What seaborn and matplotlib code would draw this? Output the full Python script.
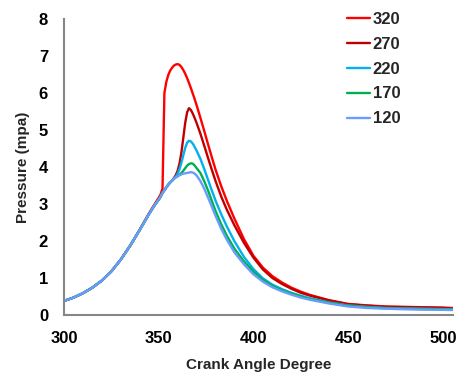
import pandas as pd
import matplotlib
matplotlib.use("Agg")
import matplotlib.pyplot as plt
import seaborn as sns

# angulos de ciguenal (grados)
angle = [300, 305, 310, 315, 320, 325, 330, 335, 340, 345, 348, 350, 351, 352,
         353, 354, 355, 356, 357, 358, 359, 360, 361, 362, 363, 364, 365, 366,
         367, 368, 369, 370, 372, 374, 376, 378, 380, 383, 386, 390, 395, 400,
         405, 410, 415, 420, 425, 430, 440, 450, 460, 470, 480, 490, 500, 505]

# presion (MPa)
p320 = [0.38, 0.47, 0.59, 0.74, 0.93, 1.18, 1.50, 1.88, 2.31, 2.76, 3.01, 3.17, 3.26, 3.42,
        6.00, 6.30, 6.48, 6.60, 6.68, 6.74, 6.77, 6.78, 6.76, 6.70, 6.62, 6.52, 6.40, 6.27,
        6.13, 5.98, 5.83, 5.67, 5.33, 4.98, 4.62, 4.27, 3.93, 3.48, 3.08, 2.60, 2.05, 1.60,
        1.28, 1.05, 0.88, 0.74, 0.63, 0.54, 0.40, 0.30, 0.26, 0.23, 0.22, 0.21, 0.20, 0.19]
p270 = [0.38, 0.47, 0.59, 0.74, 0.93, 1.18, 1.50, 1.88, 2.30, 2.74, 2.98, 3.12, 3.20, 3.30,
        3.37, 3.45, 3.52, 3.58, 3.63, 3.70, 3.78, 3.90, 4.10, 4.40, 4.80, 5.20, 5.48, 5.59,
        5.54, 5.44, 5.32, 5.19, 4.90, 4.58, 4.25, 3.93, 3.62, 3.20, 2.84, 2.42, 1.95, 1.55,
        1.23, 1.00, 0.84, 0.71, 0.60, 0.52, 0.39, 0.29, 0.25, 0.22, 0.21, 0.20, 0.19, 0.18]
p220 = [0.38, 0.47, 0.59, 0.74, 0.93, 1.18, 1.50, 1.88, 2.30, 2.74, 2.98, 3.12, 3.20, 3.30,
        3.37, 3.45, 3.52, 3.58, 3.63, 3.68, 3.74, 3.82, 3.95, 4.12, 4.32, 4.52, 4.66, 4.71,
        4.69, 4.63, 4.54, 4.44, 4.22, 3.95, 3.66, 3.37, 3.09, 2.72, 2.39, 1.99, 1.57, 1.24,
        0.99, 0.82, 0.70, 0.60, 0.52, 0.45, 0.34, 0.26, 0.22, 0.19, 0.18, 0.17, 0.16, 0.16]
p170 = [0.38, 0.47, 0.59, 0.74, 0.93, 1.18, 1.50, 1.88, 2.30, 2.74, 2.98, 3.12, 3.20, 3.30,
        3.37, 3.45, 3.52, 3.58, 3.63, 3.68, 3.72, 3.75, 3.79, 3.84, 3.90, 3.97, 4.04, 4.08,
        4.10, 4.09, 4.04, 3.97, 3.84, 3.62, 3.37, 3.09, 2.81, 2.45, 2.14, 1.79, 1.45, 1.17,
        0.95, 0.79, 0.67, 0.58, 0.50, 0.43, 0.33, 0.25, 0.21, 0.18, 0.17, 0.16, 0.155, 0.15]
p120 = [0.38, 0.47, 0.59, 0.74, 0.93, 1.18, 1.50, 1.88, 2.30, 2.74, 2.98, 3.12, 3.20, 3.30,
        3.37, 3.45, 3.52, 3.58, 3.63, 3.68, 3.72, 3.75, 3.78, 3.80, 3.82, 3.83, 3.84, 3.85,
        3.86, 3.85, 3.82, 3.77, 3.62, 3.42, 3.18, 2.93, 2.68, 2.33, 2.03, 1.69, 1.37, 1.10,
        0.90, 0.75, 0.64, 0.55, 0.47, 0.41, 0.31, 0.23, 0.19, 0.17, 0.155, 0.145, 0.14, 0.135]

series = ["320", "270", "220", "170", "120"]
colores = ["#FF0000", "#C00000", "#00B0F0", "#00B050", "#6A9BFF"]

df = pd.DataFrame({
    "angle": angle * 5,
    "pressure": p320 + p270 + p220 + p170 + p120,
    "serie": sum([[s] * len(angle) for s in series], []),
})

sns.set_style("white")
plt.rcParams["font.family"] = ["Liberation Sans", "DejaVu Sans"]
plt.rcParams["font.weight"] = "bold"

fig = plt.figure(figsize=(4.58, 3.72), dpi=100)
ax = fig.add_axes([64 / 458, 1 - 315 / 372, (453.3 - 64) / 458, (315 - 19) / 372])

sns.lineplot(data=df, x="angle", y="pressure", hue="serie", hue_order=series,
             palette=colores, estimator=None, sort=False, linewidth=1.7, ax=ax)

ax.set_xlim(300, 505.5)
ax.set_ylim(0, 8)
ax.set_xticks([300, 350, 400, 450, 500])
ax.set_yticks(range(0, 9))

for s in ["top", "right"]:
    ax.spines[s].set_visible(False)
for s in ["left", "bottom"]:
    ax.spines[s].set_color("#868686")
    ax.spines[s].set_linewidth(1.5)

ax.tick_params(axis="both", colors="#868686", length=4.5, width=1.2, direction="out",
               labelcolor="black", labelsize=12, pad=7)
for lab in ax.get_xticklabels() + ax.get_yticklabels():
    lab.set_fontweight("bold")

ax.set_xlabel("Crank Angle Degree", fontsize=11, fontweight="bold", labelpad=9)
ax.set_ylabel("Pressure (mpa)", fontsize=11, fontweight="bold", labelpad=6)

leg = ax.legend(frameon=False, loc="upper left", bbox_to_anchor=(347 / 458, 1 - 12 / 372),
                bbox_transform=fig.transFigure, borderpad=0, borderaxespad=0,
                handlelength=1.4, handletextpad=0.15, labelspacing=0.59,
                prop={"size": 12, "weight": "bold"})

fig.savefig("out.png", dpi=100)
